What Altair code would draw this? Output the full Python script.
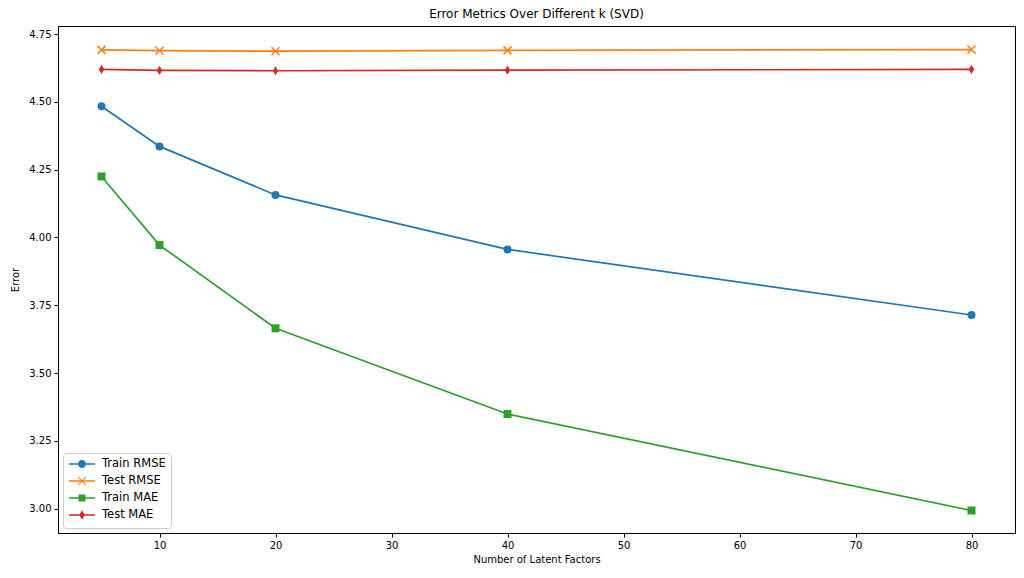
"""SVD error metrics vs number of latent factors, matplotlib-style look."""

import altair as alt
import pandas as pd

k_values = [5, 10, 20, 40, 80]
train_rmse = [4.484, 4.336, 4.157, 3.956, 3.714]
test_rmse = [4.692, 4.689, 4.687, 4.690, 4.693]
train_mae = [4.225, 3.972, 3.665, 3.349, 2.993]
test_mae = [4.620, 4.616, 4.615, 4.617, 4.620]

names = ["Train RMSE", "Test RMSE", "Train MAE", "Test MAE"]
colors = ["#1f77b4", "#ff7f0e", "#2ca02c", "#d62728"]
x_ticks = [10, 20, 30, 40, 50, 60, 70, 80]
y_ticks = [3.00, 3.25, 3.50, 3.75, 4.00, 4.25, 4.50, 4.75]

# plot markers: (shape, filled)
markers = [
    ("circle", True),
    ("M-1,-1L1,1M-1,1L1,-1", False),
    ("square", True),
    ("M0,-1.15L0.68,0L0,1.15L-0.68,0Z", True),
]
# legend glyphs, fill only: a thin bar (the line) through the marker, all clockwise
_bar = "M-2.6,-0.16L2.6,-0.16L2.6,0.16L-2.6,0.16Z"
legend_glyphs = [
    _bar + "M0.8,0A0.8,0.8 0 1 1 -0.8,0A0.8,0.8 0 1 1 0.8,0Z",
    _bar + "M-0.85,-0.7L-0.7,-0.85L0.85,0.7L0.7,0.85Z"
    + "M0.7,-0.85L0.85,-0.7L-0.7,0.85L-0.85,0.7Z",
    _bar + "M-0.7,-0.7L0.7,-0.7L0.7,0.7L-0.7,0.7Z",
    _bar + "M0,-0.95L0.55,0L0,0.95L-0.55,0Z",
]

rows = []
for name, vals in zip(names, [train_rmse, test_rmse, train_mae, test_mae]):
    for k, v in zip(k_values, vals):
        rows.append({"k": k, "error": v, "series": name})
df = pd.DataFrame(rows)

x_enc = alt.X(
    "k:Q",
    scale=alt.Scale(domain=[1.25, 83.75], nice=False, zero=False),
    axis=alt.Axis(values=x_ticks, title="Number of Latent Factors", titlePadding=4),
)
y_enc = alt.Y(
    "error:Q",
    scale=alt.Scale(domain=[2.91, 4.78], nice=False, zero=False),
    axis=alt.Axis(values=y_ticks, format=".2f", title="Error", titlePadding=8),
)

base = alt.Chart(df)
layers = []
# one line + marker layer per series, plain colours (no extra scales that would
# get merged with the legend below and switch it off)
for name, c, (shape, filled) in zip(names, colors, markers):
    series = base.transform_filter(alt.datum.series == name)
    layers.append(series.mark_line(color=c, strokeWidth=1.7).encode(x=x_enc, y=y_enc))
    layers.append(
        series.mark_point(shape=shape, filled=filled, color=c, size=64, opacity=1, strokeWidth=1.5)
        .encode(x=x_enc, y=y_enc)
    )

# invisible layer (size 0) that only carries the legend (line + marker glyphs)
legend = alt.Legend(
    title=None,
    orient="bottom-left",
    offset=5,
    symbolSize=100,
    symbolOpacity=1,
    symbolOffset=8,
    labelOffset=14,
    labelFontSize=11.5,
    labelFont="DejaVu Sans",
    labelColor="black",
    rowPadding=2,
    padding=5,
    fillColor="white",
    strokeColor="#cccccc",
    cornerRadius=3,
)
layers.append(
    base.mark_point(filled=True, opacity=1, size=0)
    .encode(
        x=x_enc,
        y=y_enc,
        color=alt.Color("series:N", scale=alt.Scale(domain=names, range=colors), legend=legend),
        shape=alt.Shape("series:N", scale=alt.Scale(domain=names, range=legend_glyphs), legend=legend),
    )
)

chart = (
    alt.layer(*layers)
    .properties(
        width=957,
        height=507,
        autosize=alt.AutoSizeParams(type="none"),
        padding={"left": 50, "top": 18, "right": 1, "bottom": 30},
        title=alt.TitleParams(
            "Error Metrics Over Different k (SVD)",
            fontSize=12,
            font="DejaVu Sans",
            fontWeight="normal",
            color="black",
            offset=5,
        ),
    )
    .configure_view(stroke="black", strokeWidth=1)
    .configure_axis(
        grid=False,
        domainColor="black",
        tickColor="black",
        tickSize=4,
        labelFont="DejaVu Sans",
        labelFontSize=10,
        labelColor="black",
        labelPadding=3,
        titleFont="DejaVu Sans",
        titleFontSize=10,
        titleFontWeight="normal",
        titleColor="black",
    )
)

chart.save("out.html", embed_options={"renderer": "svg", "actions": False})
